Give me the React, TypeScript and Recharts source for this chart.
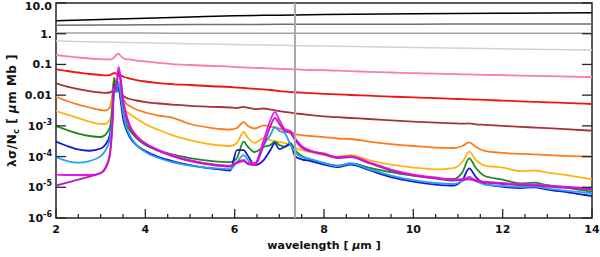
import React from "react";
import { LineChart, Line, XAxis, YAxis, ReferenceLine, ReferenceArea, Label } from "recharts";

// smooth top curves, sampled coarsely
const topWl = [2, 3, 4, 5, 6, 7, 8, 10, 12, 14];
const black = [2.65, 2.92, 3.2, 3.5, 3.83, 4.02, 4.19, 4.45, 4.65, 4.83];
const darkGray = [1.88, 1.92, 1.95, 1.98, 2.0, 2.02, 2.03, 2.05, 2.06, 2.07];
const midGray = [1.05, 1.05, 1.05, 1.04, 1.04, 1.04, 1.04, 1.03, 1.03, 1.03];
const lightGray = [0.579, 0.54, 0.505, 0.475, 0.445, 0.42, 0.395, 0.355, 0.322, 0.295];

// wavelength grid for the curves with band features
const wl = [
  2.0, 2.25, 2.5, 2.75, 3.0, 3.1, 3.2, 3.26, 3.3, 3.35, 3.4, 3.44, 3.5, 3.56, 3.65, 3.8, 4.0, 4.3,
  4.6, 5.0, 5.5, 5.9, 6.05, 6.2, 6.3, 6.45, 6.65, 6.8, 6.9, 7.0, 7.12, 7.25, 7.35, 7.5, 7.7, 8.0,
  8.3, 8.6, 9.0, 9.5, 10.0, 10.5, 10.9, 11.1, 11.25, 11.4, 11.6, 12.0, 12.4, 12.7, 13.0, 13.5, 14.0,
];

const pink = [
  0.203, 0.184, 0.168, 0.156, 0.148, 0.146, 0.145, 0.15, 0.168, 0.203, 0.227, 0.195, 0.162, 0.15,
  0.145, 0.134, 0.125, 0.113, 0.103, 0.0957, 0.0889, 0.0843, 0.0812, 0.08, 0.0788, 0.077, 0.0753,
  0.0736, 0.0731, 0.072, 0.0709, 0.0699, 0.0688, 0.0673, 0.0658, 0.0648, 0.0624, 0.0606, 0.0575,
  0.0546, 0.0518, 0.0499, 0.0484, 0.0477, 0.0473, 0.0466, 0.0459, 0.0446, 0.0433, 0.0423, 0.0413,
  0.0401, 0.0389,
];
const red = [
  0.0709, 0.0611, 0.0546, 0.0488, 0.0452, 0.0442, 0.0452, 0.0488, 0.0526, 0.0506, 0.0488, 0.0452,
  0.0404, 0.0375, 0.0348, 0.0311, 0.0278, 0.0248, 0.023, 0.0214, 0.0195, 0.0184, 0.0177, 0.0171,
  0.0167, 0.0161, 0.0153, 0.0147, 0.0142, 0.0136, 0.0131, 0.0126, 0.0124, 0.012, 0.0116, 0.011,
  0.0106, 0.0101, 0.00958, 0.00896, 0.00843, 0.00794, 0.00759, 0.00743, 0.00731, 0.00715, 0.00699,
  0.00663, 0.0063, 0.00607, 0.00584, 0.0055, 0.00514,
];
const brown = [
  0.0243, 0.0191, 0.0158, 0.0136, 0.0122, 0.0119, 0.0122, 0.0136, 0.0158, 0.0147, 0.0136, 0.0117,
  0.00972, 0.00837, 0.00748, 0.00669, 0.00597, 0.00534, 0.00495, 0.00449, 0.00417, 0.00396,
  0.00381, 0.00417, 0.00387, 0.00353, 0.00367, 0.0034, 0.00321, 0.00304, 0.00287, 0.0027, 0.00256,
  0.00243, 0.00225, 0.00204, 0.00191, 0.0018, 0.00167, 0.0015, 0.00138, 0.00128, 0.00121, 0.00118,
  0.0012, 0.00112, 0.00108, 0.001, 0.00093, 0.000883, 0.000838, 0.000772, 0.000695,
];
const orange = [
  0.00889, 0.00644, 0.00495, 0.00396, 0.00328, 0.00316, 0.00381, 0.0101, 0.0361, 0.0198, 0.023,
  0.0147, 0.00806, 0.00554, 0.00443, 0.0034, 0.00272, 0.00217, 0.00187, 0.00115, 0.00085, 0.00076,
  0.00085, 0.00133, 0.000988, 0.000819, 0.00103, 0.000951, 0.000883, 0.000819, 0.000732, 0.00063,
  0.000542, 0.000503, 0.000467, 0.000433, 0.000387, 0.000373, 0.000309, 0.000256, 0.000221,
  0.000197, 0.00019, 0.000221, 0.000291, 0.000205, 0.000152, 0.000131, 0.000123, 0.000118,
  0.000112, 0.000104, 0.0000989,
];
const gold = [
  0.00304, 0.00234, 0.0018, 0.00138, 0.00115, 0.00115, 0.00155, 0.00477, 0.0311, 0.0147, 0.0198,
  0.0109, 0.00514, 0.00328, 0.00243, 0.00173, 0.00115, 0.000732, 0.000503, 0.000346, 0.000247,
  0.000221, 0.000276, 0.00063, 0.000402, 0.000276, 0.000402, 0.000346, 0.000321, 0.000298,
  0.000276, 0.000238, 0.00019, 0.000163, 0.000141, 0.000112, 0.0001, 0.000112, 0.0000772,
  0.0000551, 0.000044, 0.0000384, 0.0000424, 0.0000664, 0.000144, 0.0000772, 0.0000511, 0.000044,
  0.0000335, 0.0000352, 0.0000302, 0.0000241, 0.0000182,
];
const green = [
  0.000988, 0.000732, 0.000563, 0.000467, 0.000433, 0.000503, 0.00085, 0.00328, 0.0361, 0.0171,
  0.023, 0.0101, 0.00282, 0.00133, 0.000732, 0.000402, 0.000238, 0.000157, 0.000117, 0.0000897,
  0.0000716, 0.0000664, 0.0000897, 0.000305, 0.000205, 0.000141, 0.000205, 0.000238, 0.000305,
  0.000238, 0.000212, 0.000276, 0.000163, 0.000104, 0.0000801, 0.0000617, 0.0000511, 0.0000594,
  0.000044, 0.0000314, 0.0000241, 0.00002, 0.0000186, 0.0000314, 0.0000877, 0.0000424, 0.0000233,
  0.0000179, 0.0000133, 0.0000141, 0.0000118, 0.00000946, 0.00000717,
];
const blue = [
  0.000309, 0.000221, 0.00017, 0.000155, 0.000183, 0.000238, 0.000467, 0.00217, 0.0214, 0.0126,
  0.0198, 0.00806, 0.0018, 0.00085, 0.000433, 0.000238, 0.000152, 0.0000966, 0.0000716, 0.0000531,
  0.0000408, 0.0000351, 0.000163, 0.000163, 0.000104, 0.0000531, 0.0000772, 0.000163, 0.000276,
  0.000176, 0.000205, 0.000256, 0.000104, 0.0000814, 0.0000716, 0.0000551, 0.0000457, 0.0000551,
  0.0000365, 0.0000216, 0.0000154, 0.0000123, 0.0000114, 0.0000172, 0.0000414, 0.0000216,
  0.0000128, 0.0000104, 0.00000946, 0.00000997, 0.00000845, 0.00000675, 0.00000519,
];
const sky = [
  0.0000966, 0.0000716, 0.0000631, 0.0000716, 0.000104, 0.000152, 0.000346, 0.0018, 0.0147, 0.0126,
  0.0268, 0.0126, 0.00282, 0.00106, 0.000503, 0.000238, 0.000141, 0.0000897, 0.0000664, 0.0000511,
  0.0000424, 0.0000393, 0.0000664, 0.000112, 0.0000772, 0.0000531, 0.000238, 0.000503, 0.000917,
  0.000679, 0.000585, 0.000238, 0.000141, 0.0000966, 0.0000832, 0.0000617, 0.0000492, 0.0000594,
  0.0000393, 0.0000241, 0.0000172, 0.0000138, 0.0000128, 0.000016, 0.0000221, 0.000016, 0.0000123,
  0.000011, 0.0000102, 0.0000106, 0.00000911, 0.00000755, 0.0000065,
];
const magenta = [
  0.000026, 0.0000251, 0.0000251, 0.0000251, 0.0000291, 0.0000424, 0.000112, 0.00106, 0.0171,
  0.0214, 0.0824, 0.0452, 0.00806, 0.00282, 0.00106, 0.000485, 0.000276, 0.000163, 0.000112,
  0.0000772, 0.0000572, 0.0000511, 0.0000664, 0.0000772, 0.0000617, 0.0000617, 0.000346, 0.00155,
  0.00282, 0.00155, 0.000789, 0.000679, 0.000402, 0.000221, 0.000157, 0.000126, 0.0000966, 0.000104,
  0.0000664, 0.0000379, 0.000026, 0.0000208, 0.0000179, 0.0000186, 0.0000205, 0.0000172, 0.0000154,
  0.0000138, 0.0000126, 0.0000125, 0.0000114, 0.0000102, 0.00000925,
];
const purple = [
  0.0000114, 0.0000143, 0.0000179, 0.0000224, 0.0000291, 0.0000393, 0.0000966, 0.00085, 0.0126,
  0.0171, 0.0567, 0.0311, 0.00597, 0.00217, 0.000917, 0.000433, 0.000256, 0.000152, 0.000104,
  0.0000716, 0.0000531, 0.0000474, 0.0000617, 0.0000716, 0.0000572, 0.0000531, 0.000238, 0.000988,
  0.0018, 0.00115, 0.000679, 0.000585, 0.000346, 0.000197, 0.000146, 0.000117, 0.0000897,
  0.0000966, 0.0000617, 0.0000351, 0.0000241, 0.0000193, 0.0000166, 0.0000172, 0.0000182, 0.000016,
  0.0000143, 0.0000128, 0.0000117, 0.0000116, 0.0000106, 0.00000946, 0.00000858,
];

const xTicks = [
  2, 2.5, 3, 3.5, 4, 4.5, 5, 5.5, 6, 6.5, 7, 7.5, 8, 8.5, 9, 9.5, 10, 10.5, 11, 11.5, 12, 12.5, 13,
  13.5, 14,
];
const xMajor = [2, 4, 6, 8, 10, 12, 14];
const yTicks = [1e-6, 1e-5, 1e-4, 1e-3, 0.01, 0.1, 1, 10];
const markerLine = 7.35;

const series = [
  { key: "black", xs: topWl, ys: black, color: "#000000" },
  { key: "darkGray", xs: topWl, ys: darkGray, color: "#6e6e6e" },
  { key: "midGray", xs: topWl, ys: midGray, color: "#a4a4a4" },
  { key: "lightGray", xs: topWl, ys: lightGray, color: "#d2d2d2" },
  { key: "pink", xs: wl, ys: pink, color: "#fa7fa0" },
  { key: "red", xs: wl, ys: red, color: "#f01212" },
  { key: "brown", xs: wl, ys: brown, color: "#a6303c" },
  { key: "orange", xs: wl, ys: orange, color: "#ff7a1a" },
  { key: "gold", xs: wl, ys: gold, color: "#ffb414" },
  { key: "green", xs: wl, ys: green, color: "#1a8a1a" },
  { key: "blue", xs: wl, ys: blue, color: "#1414d8" },
  { key: "sky", xs: wl, ys: sky, color: "#20a4f0" },
  { key: "magenta", xs: wl, ys: magenta, color: "#f014f0" },
  { key: "purple", xs: wl, ys: purple, color: "#c018c0" },
];

const toRows = (xs: number[], ys: number[]) => xs.map((x, i) => ({ x, y: ys[i] }));

const FONT = "DejaVu Sans";
const AXIS = "#262626";
const INK = "#111";

const BottomTick = ({ x, y, payload }: any) => {
  const v = payload.value;
  const major = xMajor.includes(v);
  return (
    <g>
      <path d={`M${x},${y}V${y - (major ? 9 : 4)}`} stroke={AXIS} strokeWidth={1.3} fill="none" />
      {major && (
        <text x={x} y={y + 15} textAnchor="middle" fontSize={11} fontWeight="bold" fontFamily={FONT} fill={INK}>
          {v}
        </text>
      )}
    </g>
  );
};

const TopTick = ({ x, y, payload }: any) => {
  const major = xMajor.includes(payload.value);
  return <path d={`M${x},${y}V${y + (major ? 9 : 4)}`} stroke={AXIS} strokeWidth={1.3} fill="none" />;
};

const LeftTick = ({ x, y, payload }: any) => {
  const v = payload.value;
  const e = Math.round(Math.log10(v));
  const by = v === 10 ? y + 7 : y + 4;
  let txt: React.ReactNode;
  if (e <= -3) {
    txt = (
      <>
        10
        <tspan dy={-5} fontSize={8}>
          {"-" + -e}
        </tspan>
      </>
    );
  } else if (e === 1) txt = "10.0";
  else if (e === 0) txt = "1.";
  else txt = e === -1 ? "0.1" : "0.01";
  return (
    <g>
      <path d={`M${x},${y}H${x + 10}`} stroke={AXIS} strokeWidth={1.3} fill="none" />
      <text x={x - 4} y={by} textAnchor="end" fontSize={11} fontWeight="bold" fontFamily={FONT} fill={INK}>
        {txt}
      </text>
    </g>
  );
};

const RightTick = ({ x, y }: any) => (
  <path d={`M${x},${y}H${x - 10}`} stroke={AXIS} strokeWidth={1.3} fill="none" />
);

const XTitle = ({ viewBox }: any) => (
  <text
    x={viewBox.x + viewBox.width / 2}
    y={viewBox.y + 31}
    textAnchor="middle"
    fontSize={11}
    fontWeight="bold"
    fontFamily={FONT}
    fill={INK}
  >
    wavelength [ <tspan fontStyle="italic">µ</tspan>m ]
  </text>
);

const YTitle = ({ viewBox }: any) => {
  const cx = viewBox.x + 16;
  const cy = viewBox.y + viewBox.height / 2;
  return (
    <text
      x={cx}
      y={cy}
      transform={`rotate(-90, ${cx}, ${cy})`}
      textAnchor="middle"
      fontSize={12}
      fontWeight="bold"
      letterSpacing={0.5}
      fontFamily={FONT}
      fill={INK}
    >
      λσ/N
      <tspan dy={3} fontSize={8}>
        c
      </tspan>
      <tspan dy={-3}>{" [ "}</tspan>
      <tspan fontStyle="italic">µ</tspan>m Mb ]
    </text>
  );
};

export default function App() {
  return (
    <div style={{ position: "absolute", left: 0, top: 0, background: "#fff" }}>
      <LineChart width={600} height={257} margin={{ top: 3, right: 0, bottom: 0, left: 0 }}>
        <XAxis
          xAxisId="b"
          type="number"
          dataKey="x"
          domain={[2, 14]}
          ticks={xTicks}
          interval={0}
          height={39}
          tickSize={0}
          tickMargin={0}
          tick={<BottomTick />}
          axisLine={false}
          allowDataOverflow
        >
          <Label content={<XTitle />} />
        </XAxis>
        <XAxis
          xAxisId="t"
          orientation="top"
          type="number"
          dataKey="x"
          domain={[2, 14]}
          ticks={xTicks}
          interval={0}
          height={0}
          tickSize={0}
          tickMargin={0}
          tick={<TopTick />}
          axisLine={false}
          allowDataOverflow
        />
        <YAxis
          yAxisId="l"
          scale="log"
          type="number"
          domain={[1e-6, 10]}
          ticks={yTicks}
          interval={0}
          width={56}
          tickSize={0}
          tickMargin={0}
          tick={<LeftTick />}
          axisLine={false}
          allowDataOverflow
        >
          <Label content={<YTitle />} />
        </YAxis>
        <YAxis
          yAxisId="r"
          orientation="right"
          scale="log"
          type="number"
          domain={[1e-6, 10]}
          ticks={yTicks}
          interval={0}
          width={8}
          tickSize={0}
          tickMargin={0}
          tick={<RightTick />}
          axisLine={false}
          allowDataOverflow
        />
        {series.map((s) => (
          <Line
            key={s.key}
            xAxisId="b"
            yAxisId="l"
            data={toRows(s.xs, s.ys)}
            dataKey="y"
            type="monotone"
            stroke={s.color}
            strokeWidth={s.xs === topWl ? 1.5 : 1.8}
            dot={false}
            activeDot={false}
            isAnimationActive={false}
          />
        ))}
        <ReferenceLine
          xAxisId="b"
          yAxisId="l"
          x={markerLine}
          stroke="#a8a8a8"
          strokeWidth={2}
        />
        <ReferenceArea
          xAxisId="b"
          yAxisId="l"
          x1={2}
          x2={14}
          y1={1e-6}
          y2={10}
          fill="none"
          fillOpacity={0}
          stroke={AXIS}
          strokeWidth={1.5}
          strokeOpacity={1}
          ifOverflow="visible"
        />
      </LineChart>
    </div>
  );
}
